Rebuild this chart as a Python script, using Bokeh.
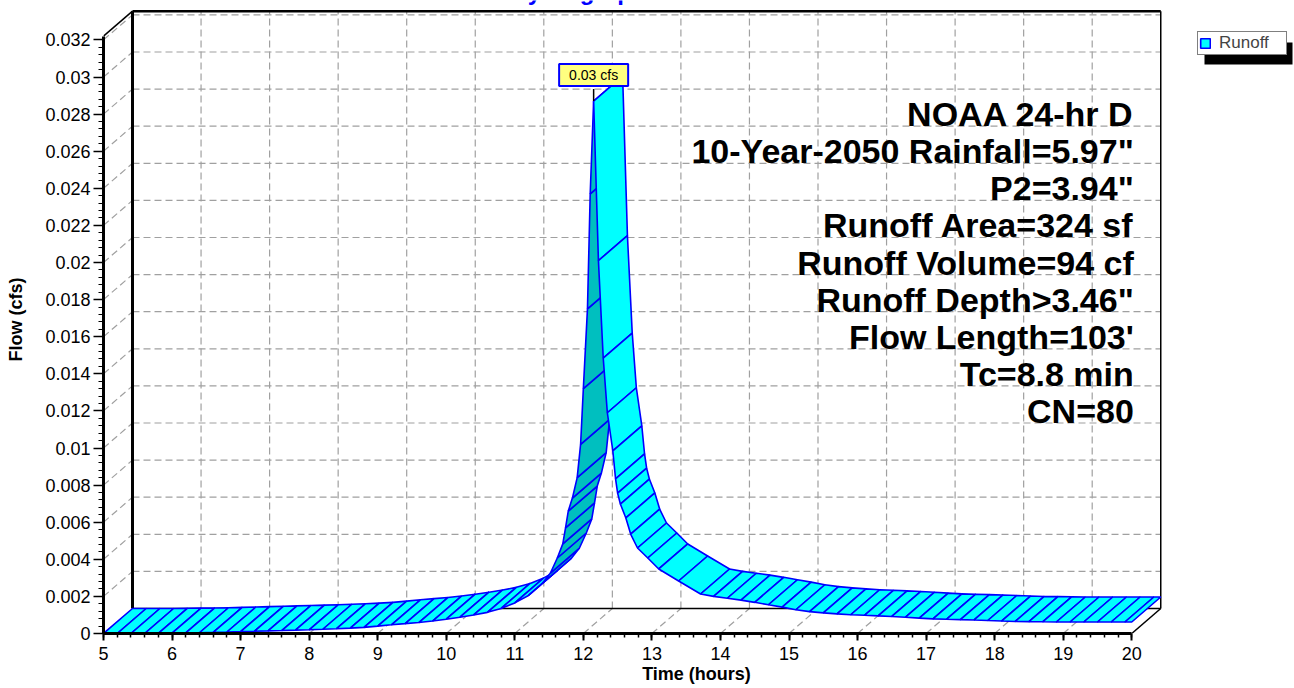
import numpy as np
from bokeh.plotting import figure
from bokeh.models import (Range1d, FixedTicker, Label, Legend, LegendItem,
                          BoxAnnotation, ColumnDataSource)
from bokeh.core.properties import value
from bokeh.embed import file_html
from bokeh.resources import INLINE

# ---------------- data ----------------
time_h = [5.0, 5.2, 5.4, 5.6, 5.8, 6.0, 6.2, 6.4, 6.6, 6.8,
          7.0, 7.2, 7.4, 7.6, 7.8, 8.0, 8.2, 8.4, 8.6, 8.8,
          9.0, 9.2, 9.4, 9.6, 9.8, 10.0, 10.2, 10.4, 10.6, 10.8,
          11.0, 11.2, 11.4, 11.52, 11.62, 11.70, 11.74, 11.78, 11.84, 11.91,
          11.96, 12.00, 12.06, 12.10, 12.15, 12.22, 12.29, 12.35, 12.43, 12.47,
          12.50, 12.54, 12.62, 12.69, 12.79, 12.94, 13.10, 13.39, 13.71, 13.9,
          14.1, 14.3, 14.5, 14.7, 14.9, 15.1, 15.3, 15.5, 15.7, 15.9,
          16.1, 16.3, 16.5, 16.7, 16.9, 17.1, 17.3, 17.5, 17.7, 17.9,
          18.1, 18.3, 18.5, 18.7, 18.9, 19.1, 19.3, 19.5, 19.7, 19.9, 20.0]
flow_cfs = [0.00000, 0.00000, 0.00000, 0.00000, 0.00001, 0.00002, 0.00003, 0.00004, 0.00006, 0.00008,
            0.00010, 0.00012, 0.00014, 0.00016, 0.00018, 0.00020, 0.00023, 0.00026, 0.00029, 0.00033,
            0.00040, 0.00047, 0.00053, 0.00059, 0.00067, 0.00077, 0.00088, 0.00100, 0.00114, 0.00135,
            0.00165, 0.00205, 0.00270, 0.00326, 0.00407, 0.00483, 0.00569, 0.00660, 0.00730, 0.00840,
            0.01020, 0.01320, 0.01750, 0.02370, 0.02870, 0.02010, 0.01485, 0.01190, 0.00984, 0.00833,
            0.00757, 0.00698, 0.00623, 0.00536, 0.00461, 0.00407, 0.00348, 0.00283, 0.00213, 0.00200,
            0.00190, 0.00180, 0.00168, 0.00155, 0.00142, 0.00128, 0.00118, 0.00111, 0.00106, 0.00101,
            0.00098, 0.00095, 0.00092, 0.00088, 0.00083, 0.00079, 0.00077, 0.00075, 0.00073, 0.00070,
            0.00067, 0.00065, 0.00064, 0.00063, 0.00062, 0.00062, 0.00062, 0.00062, 0.00062, 0.00062, 0.00062]

x_tick_values = [5, 6, 7, 8, 9, 10, 11, 12, 13, 14, 15, 16, 17, 18, 19, 20]
x_tick_labels = ["5", "6", "7", "8", "9", "10", "11", "12", "13", "14",
                 "15", "16", "17", "18", "19", "20"]
y_tick_values = [0, 0.002, 0.004, 0.006, 0.008, 0.01, 0.012, 0.014, 0.016,
                 0.018, 0.02, 0.022, 0.024, 0.026, 0.028, 0.03, 0.032]
y_tick_labels = ["0", "0.002", "0.004", "0.006", "0.008", "0.01", "0.012", "0.014", "0.016",
                 "0.018", "0.02", "0.022", "0.024", "0.026", "0.028", "0.03", "0.032"]

ann_lines = ["NOAA 24-hr D", "10-Year-2050 Rainfall=5.97\"", "P2=3.94\"",
             "Runoff Area=324 sf", "Runoff Volume=94 cf", "Runoff Depth>3.46\"",
             "Flow Length=103'", "Tc=8.8 min", "CN=80"]
title_text = "Hydrograph"
series_name = "Runoff"
x_title = "Time  (hours)"
y_title = "Flow  (cfs)"

# ---------------- geometry / style ----------------
FONT = "Liberation Sans"
PX_PER_H = 68.55
PX_PER_CFS = 37.1 / 0.002
DEPTH_X_PX, DEPTH_Y_PX = 29, 25
dxh = DEPTH_X_PX / PX_PER_H
dyq = DEPTH_Y_PX / PX_PER_CFS
Q_TOP = 0.0322
T0, T1 = x_tick_values[0], x_tick_values[-1]

W, H = 1294, 688
ML, MB = 103, 55            # frame origin (5 h, 0 cfs) at canvas px (103, 633)
fw, fh = W - ML, H - MB
FX0, FY0 = ML, H - MB


def tx(px):   # canvas px -> hours (layout helper)
    return T0 + (px - FX0) / PX_PER_H


def qy(py):   # canvas px -> cfs (layout helper)
    return (FY0 - py) / PX_PER_CFS


p = figure(width=W, height=H, output_backend="svg", toolbar_location=None,
           x_range=Range1d(T0, T0 + fw / PX_PER_H),
           y_range=Range1d(0, fh / PX_PER_CFS),
           min_border_left=ML, min_border_bottom=MB, min_border_top=0, min_border_right=0)
p.outline_line_color = None
p.grid.visible = False
p.background_fill_color = "white"
p.border_fill_color = "white"

# ---------------- axes ----------------
xa = p.xaxis[0]
xa.ticker = FixedTicker(ticks=x_tick_values,
                        minor_ticks=[round(v, 2) for v in np.arange(T0, T1 + 1e-9, 0.2)])
xa.bounds = (T0, T1)
xa.major_label_overrides = dict(zip(x_tick_values, x_tick_labels))
xa.axis_line_width = 3
xa.axis_line_color = "black"
xa.major_tick_in = 0
xa.major_tick_out = 7
xa.major_tick_line_width = 2
xa.minor_tick_in = 0
xa.minor_tick_out = 4
xa.minor_tick_line_width = 1.5
xa.major_label_standoff = 6
xa.major_label_text_font = FONT
xa.major_label_text_font_size = "18px"
xa.major_label_text_color = "black"
xa.axis_label = x_title
xa.axis_label_text_font = FONT
xa.axis_label_text_font_style = "bold"
xa.axis_label_text_font_size = "18px"
xa.axis_label_text_color = "black"
xa.axis_label_standoff = 1

ya = p.yaxis[0]
ya.ticker = FixedTicker(ticks=y_tick_values,
                        minor_ticks=[round(v, 4) for v in np.arange(0, Q_TOP, 0.0004)])
ya.bounds = (0, Q_TOP)
ya.major_label_overrides = dict(zip(y_tick_values, y_tick_labels))
ya.axis_line_width = 3
ya.axis_line_color = "black"
ya.major_tick_in = 0
ya.major_tick_out = 10
ya.major_tick_line_width = 1.5
ya.minor_tick_in = 0
ya.minor_tick_out = 5
ya.minor_tick_line_width = 1.2
ya.major_label_standoff = 3
ya.major_label_text_font = FONT
ya.major_label_text_font_size = "18px"
ya.major_label_text_color = "black"
ya.axis_label = y_title
ya.axis_label_text_font = FONT
ya.axis_label_text_font_style = "bold"
ya.axis_label_text_font_size = "18px"
ya.axis_label_text_color = "black"
ya.axis_label_standoff = 16

# ---------------- 3D box: back wall grid, side wall and floor ----------------
GRID = "#A0A0A0"
gx0, gy0, gx1, gy1 = [], [], [], []
for q in y_tick_values[1:]:
    gx0.append(T0 + dxh); gy0.append(q + dyq); gx1.append(T1 + dxh); gy1.append(q + dyq)   # back horizontals
    gx0.append(T0); gy0.append(q); gx1.append(T0 + dxh); gy1.append(q + dyq)                # side-wall diagonals
for t in x_tick_values[1:-1]:
    gx0.append(t + dxh); gy0.append(dyq); gx1.append(t + dxh); gy1.append(Q_TOP + dyq)     # back verticals
    gx0.append(t); gy0.append(0); gx1.append(t + dxh); gy1.append(dyq)                      # floor diagonals
p.segment(x0=gx0, y0=gy0, x1=gx1, y1=gy1, line_color=GRID, line_width=1.2, line_dash="7 4")

# box edges
p.segment(x0=[T0 + dxh], y0=[dyq], x1=[T0 + dxh], y1=[Q_TOP + dyq], line_color="black", line_width=3)
p.segment(x0=[T0 + dxh], y0=[Q_TOP + dyq], x1=[T1 + dxh], y1=[Q_TOP + dyq], line_color="black", line_width=2.5)
p.segment(x0=[T0, T1 + dxh, T0 + dxh, T1], y0=[Q_TOP, dyq, dyq, 0],
          x1=[T0 + dxh, T1 + dxh, T1 + dxh, T1 + dxh], y1=[Q_TOP + dyq, Q_TOP + dyq, dyq, dyq],
          line_color="black", line_width=1.5)

# ---------------- ribbon ----------------
xs, ys, colors = [], [], []
for i in range(len(time_h) - 1):
    t0, t1 = time_h[i], time_h[i + 1]
    q0, q1 = flow_cfs[i], flow_cfs[i + 1]
    xs.append([t0, t1, t1 + dxh, t0 + dxh])
    ys.append([q0, q1, q1 + dyq, q0 + dyq])
    sx = (t1 - t0) * PX_PER_H
    sy = (q1 - q0) * PX_PER_CFS
    cross = sx * DEPTH_Y_PX - sy * DEPTH_X_PX
    colors.append("#00FFFF" if cross >= 0 else "#00BFBF")
rib = p.patches(xs="xs", ys="ys", fill_color="colors", line_color="#0000FF", line_width=1.6,
                source=ColumnDataSource(dict(xs=xs, ys=ys, colors=colors)))

# ---------------- peak label ----------------
ipk = int(np.argmax(flow_cfs))
t_pk, q_pk = time_h[ipk], flow_cfs[ipk]
p.segment(x0=[t_pk], y0=[q_pk], x1=[t_pk], y1=[q_pk + 12 / PX_PER_CFS], line_color="black", line_width=1.5)
p.add_layout(Label(x=t_pk, y=q_pk, y_offset=15, text=f"{q_pk:.2f} cfs", text_align="center",
                   text_baseline="bottom", text_font=FONT, text_font_size="14px", text_color="black",
                   background_fill_color="#FFFF80", border_line_color="#0000FF", border_line_width=2,
                   padding=(10, 3)))

# ---------------- annotation block ----------------
ann_y = [y_tick_values[14] - 0.002 * i for i in range(len(ann_lines))]
p.text(x=[T1 + 0.03] * len(ann_lines), y=ann_y, text=ann_lines, text_align="right",
       text_baseline="middle", text_font=value(FONT), text_font_style="bold",
       text_font_size="34px", text_color="black")

# ---------------- chart title (cut off at the top, as in the original) ----------------
p.add_layout(Label(x=tx(578), y=qy(-9), text=title_text,
                   text_align="center", text_baseline="alphabetic", text_font=FONT, text_font_style="bold",
                   text_font_size="24px", text_color="#0000FF"))

# ---------------- legend with shadow ----------------
lg_left, lg_top, lg_w, lg_h = 1197, 33, 88, 22
sh_dx, sh_dy = 7, 9
p.add_layout(BoxAnnotation(left=tx(lg_left + sh_dx), right=tx(lg_left + lg_w + sh_dx),
                           top=qy(lg_top + sh_dy), bottom=qy(lg_top + lg_h + sh_dy),
                           fill_color="black", fill_alpha=1, line_color=None, level="overlay"))
legend = Legend(items=[LegendItem(label=series_name, renderers=[rib])],
                location=(lg_left - FX0, FY0 - lg_top - lg_h), margin=0, padding=1, spacing=0,
                glyph_width=12, glyph_height=12, label_standoff=8, label_width=66, label_height=14,
                label_text_font=FONT, label_text_font_size="17px",
                border_line_color="black", border_line_width=1, background_fill_color="white",
                background_fill_alpha=1)
p.add_layout(legend)

open("out.html", "w").write(file_html(p, INLINE))
